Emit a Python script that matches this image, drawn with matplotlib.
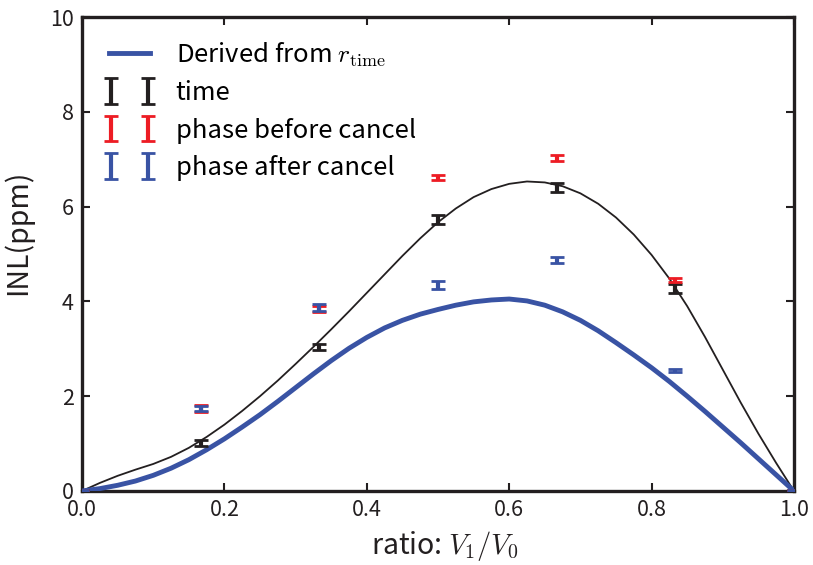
import matplotlib
matplotlib.use("Agg")
import matplotlib.pyplot as plt
from matplotlib.lines import Line2D
from matplotlib.container import ErrorbarContainer
from matplotlib.legend_handler import HandlerLine2D, HandlerErrorbar

plt.rcParams['font.family'] = ['Noto Sans CJK JP', 'DejaVu Sans']
plt.rcParams['mathtext.fontset'] = 'cm'

# curve samples
curve_x = [0.0, 0.025, 0.05, 0.075, 0.1, 0.125, 0.15, 0.175, 0.2, 0.225,
           0.25, 0.275, 0.3, 0.325, 0.35, 0.375, 0.4, 0.425, 0.45, 0.475,
           0.5, 0.525, 0.55, 0.575, 0.6, 0.625, 0.65, 0.675, 0.7, 0.725,
           0.75, 0.775, 0.8, 0.825, 0.85, 0.875, 0.9, 0.925, 0.95, 0.975, 1.0]
fit_time = [0.0, 0.17, 0.32, 0.45, 0.57, 0.72, 0.91, 1.14, 1.40, 1.69,
            2.00, 2.33, 2.68, 3.04, 3.41, 3.79, 4.18, 4.57, 4.96, 5.33,
            5.67, 5.96, 6.20, 6.37, 6.48, 6.53, 6.51, 6.43, 6.28, 6.06,
            5.77, 5.41, 4.98, 4.48, 3.90, 3.25, 2.56, 1.87, 1.21, 0.59, 0.0]
derived = [0.0, 0.05, 0.12, 0.21, 0.33, 0.48, 0.66, 0.87, 1.10, 1.35,
           1.61, 1.89, 2.18, 2.47, 2.75, 3.01, 3.24, 3.44, 3.60, 3.73,
           3.83, 3.92, 3.99, 4.03, 4.05, 4.01, 3.92, 3.78, 3.60, 3.38,
           3.13, 2.87, 2.60, 2.31, 2.00, 1.68, 1.35, 1.02, 0.68, 0.34, 0.0]

# measured points
ratio = [0.0, 1/6, 2/6, 3/6, 4/6, 5/6, 1.0]
time_y = [0.0, 1.01, 3.04, 5.73, 6.41, 4.27, 0.0]
time_err = [0.02, 0.06, 0.065, 0.09, 0.095, 0.09, 0.02]
before_y = [0.0, 1.74, 3.84, 6.62, 7.03, 4.45, 0.0]
before_err = [0.02, 0.07, 0.06, 0.05, 0.06, 0.04, 0.02]
after_y = [0.0, 1.74, 3.87, 4.34, 4.87, 2.54, 0.0]
after_err = [0.02, 0.05, 0.065, 0.08, 0.065, 0.03, 0.02]

black = '#231f20'
red = '#ed1c24'
blue = '#3953a4'

fig = plt.figure(figsize=(8.13, 5.65), dpi=100)
ax = fig.add_axes([0.1009, 0.131, 0.8757, 0.8389])

ax.plot(curve_x, fit_time, color=black, lw=1.3, zorder=2)
ax.plot(curve_x, derived, color=blue, lw=3.5, zorder=3,
        label=r'Derived from $r_{\rm time}$')

eb = dict(fmt='none', elinewidth=3, capsize=4.7, capthick=2)
ax.errorbar(ratio, time_y, yerr=time_err, ecolor=black, label='time', zorder=4, **eb)
ax.errorbar(ratio, before_y, yerr=before_err, ecolor=red,
            label='phase before cancel', zorder=5, **eb)
ax.errorbar(ratio, after_y, yerr=after_err, ecolor=blue,
            label='phase after cancel', zorder=6, **eb)

ax.set_xlim(0, 1)
ax.set_ylim(0, 10)
ax.set_xticks([0.0, 0.2, 0.4, 0.6, 0.8, 1.0])
ax.set_xticklabels(['0.0', '0.2', '0.4', '0.6', '0.8', '1.0'])
ax.set_yticks([0, 2, 4, 6, 8, 10])
ax.tick_params(direction='in', top=True, right=True, length=5.5, width=1.5,
               labelsize=15.5, pad=6, colors=black)
for s in ax.spines.values():
    s.set_linewidth(2.4)
    s.set_color(black)

ax.set_xlabel(r'ratio: $V_1/V_0$', fontsize=20.5, color=black)
ax.set_ylabel('INL(ppm)', fontsize=20.5, color=black)
ax.xaxis.set_label_coords(0.51, -0.08)
ax.yaxis.set_label_coords(-0.068, 0.546)

ax.legend(loc='upper left', bbox_to_anchor=(0.005, 1.0), frameon=False,
          fontsize=18.5, handlelength=1.6, handletextpad=1.0,
          labelspacing=0.45,
          handler_map={Line2D: HandlerLine2D(numpoints=1),
                       ErrorbarContainer: HandlerErrorbar(numpoints=2, marker_pad=0.08,
                                                          xerr_size=0.3, yerr_size=0.5)})

fig.savefig('out.png', dpi=100)
